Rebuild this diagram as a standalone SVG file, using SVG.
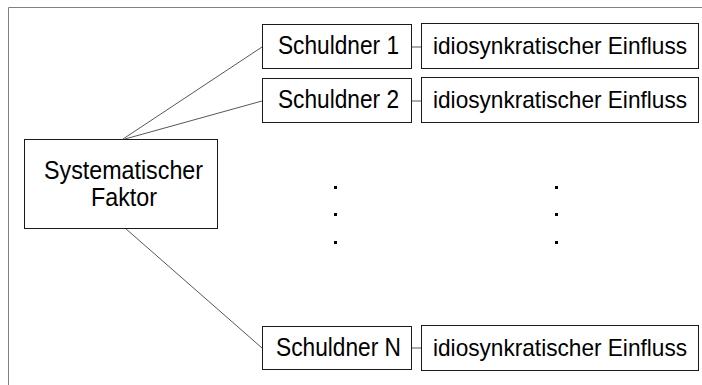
<svg xmlns="http://www.w3.org/2000/svg" width="702" height="385" viewBox="0 0 702 385">
  <style>
    .box { fill: #ffffff; stroke: #1a1a1a; stroke-width: 1; }
    .lbl { font-family: "Liberation Sans", Arial, sans-serif; font-size: 25px; fill: #000000; text-anchor: middle; }
    .lbl.long { font-size: 24px; }
    .edge { stroke: #444444; stroke-width: 0.9; fill: none; }
    .dot { fill: #000000; }
  </style>
  <rect width="702" height="385" fill="#ffffff"/>
  <!-- outer frame (top and left edges) -->
  <path d="M8.5,385 V7.5 H702" fill="none" stroke="#808080" stroke-width="1"/>

  <g id="connectors">
    <line class="edge" x1="123" y1="139" x2="262" y2="47"/>
    <line class="edge" x1="125" y1="139" x2="262" y2="101"/>
    <line class="edge" x1="125" y1="228" x2="262" y2="348"/>
    <line class="edge" x1="411" y1="47" x2="421" y2="47"/>
    <line class="edge" x1="411" y1="101" x2="421" y2="101"/>
    <line class="edge" x1="411" y1="348" x2="421" y2="348"/>
  </g>

  <g id="systematischer-faktor">
    <rect class="box" x="24.5" y="139.5" width="193" height="89"/>
    <text class="lbl" x="123.5" y="179" textLength="159" lengthAdjust="spacingAndGlyphs">Systematischer</text>
    <text class="lbl" x="124" y="206" textLength="66" lengthAdjust="spacingAndGlyphs">Faktor</text>
  </g>

  <g id="schuldner-1">
    <rect class="box" x="262.5" y="24.5" width="149" height="44"/>
    <text class="lbl" x="338.5" y="54" textLength="121" lengthAdjust="spacingAndGlyphs">Schuldner 1</text>
  </g>
  <g id="einfluss-1">
    <rect class="box" x="421.5" y="23.5" width="277" height="45"/>
    <text class="lbl long" x="560" y="54" textLength="254" lengthAdjust="spacingAndGlyphs">idiosynkratischer Einfluss</text>
  </g>

  <g id="schuldner-2">
    <rect class="box" x="262.5" y="78.5" width="149" height="44"/>
    <text class="lbl" x="338.5" y="108" textLength="121" lengthAdjust="spacingAndGlyphs">Schuldner 2</text>
  </g>
  <g id="einfluss-2">
    <rect class="box" x="421.5" y="77.5" width="277" height="45"/>
    <text class="lbl long" x="560" y="108" textLength="254" lengthAdjust="spacingAndGlyphs">idiosynkratischer Einfluss</text>
  </g>

  <g id="schuldner-n">
    <rect class="box" x="262.5" y="326.5" width="149" height="43"/>
    <text class="lbl" x="338.5" y="356" textLength="125" lengthAdjust="spacingAndGlyphs">Schuldner N</text>
  </g>
  <g id="einfluss-n">
    <rect class="box" x="421.5" y="325.5" width="277" height="45"/>
    <text class="lbl long" x="560" y="356" textLength="254" lengthAdjust="spacingAndGlyphs">idiosynkratischer Einfluss</text>
  </g>

  <!-- ellipsis dots between rows -->
  <g id="ellipsis">
    <rect class="dot" x="334" y="186" width="3" height="3"/>
    <rect class="dot" x="334" y="213" width="3" height="3"/>
    <rect class="dot" x="334" y="241" width="3" height="3"/>
    <rect class="dot" x="555" y="186" width="3" height="3"/>
    <rect class="dot" x="555" y="213" width="3" height="3"/>
    <rect class="dot" x="555" y="241" width="3" height="3"/>
  </g>
</svg>
